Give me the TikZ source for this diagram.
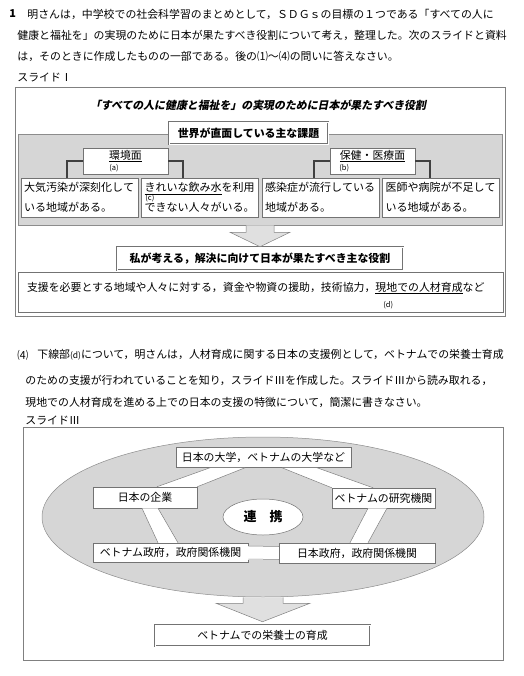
\documentclass[tikz,border=0pt]{standalone}
\usepackage{fontspec}
\usepackage{tikz}
\usetikzlibrary{shapes.geometric}
\setmainfont{Noto Sans CJK JP}
\newfontfamily\slantfont{Noto Sans CJK JP}[FakeSlant=0.2]
\XeTeXlinebreaklocale "ja"
\XeTeXlinebreakskip=0pt plus 2pt minus 0.6pt
\newcommand{\jline}[2]{\makebox[#1][s]{#2}}
\newcommand{\tagfont}{\fontsize{7.5}{7.5}\selectfont}

\begin{document}
\fontsize{10.9}{13}\selectfont
\begin{tikzpicture}[x=1pt, y=-1pt, thick,
    frame/.style={draw=black!50, line width=0.6pt},
    box/.style={draw=black!55, fill=white, inner sep=0pt, line width=0.5pt},
    headbox/.style={box, double=white, double distance=0.8pt, font=\bfseries},
    graybg/.style={draw=black!45, fill=black!16, inner sep=0pt, line width=0.5pt},
    issuebox/.style={box, minimum width=117pt, minimum height=39pt, text width=111pt,
      align=left, font=\fontsize{11}{20}\selectfont},
    bracket/.style={draw=black!75, line width=2.5pt},
    bigarrow/.style={draw=black!50, fill=black!12, line width=0.5pt},
    bandline/.style={draw=black!50, line width=0.5pt},
    line/.style={anchor=west, inner sep=0pt},
    subtag/.style={anchor=west, inner sep=0pt, font=\tagfont}]
    \useasboundingbox (0,0) rectangle (523,676);

    \node[line] (num) at (9,14) {\textbf{1}};
    \node[line] (l1) at (27,14) {\jline{476pt}{明さんは，中学校での社会科学習のまとめとして，ＳＤＧｓの目標の１つである「すべての人に}};
    \node[line] (l2) at (17,35) {\jline{486pt}{健康と福祉を」の実現のために日本が果たすべき役割について考え，整理した。次のスライドと資料}};
    \node[line] (l3) at (17,56) {\jline{362pt}{は，そのときに作成したものの一部である。後の⑴～⑷の問いに答えなさい。}};
    \node[line] (slide1) at (17,77) {スライドⅠ};

    \draw[frame] (15,87) rectangle (505,316);
    \node (title) at (258,105) {\slantfont\bfseries 「すべての人に健康と福祉を」の実現のために日本が果たすべき役割};
    \node[graybg, minimum width=484pt, minimum height=91pt] (issues) at (260,179.5) {};
    \node[headbox, minimum width=159pt, minimum height=22pt] (world) at (248.5,133) {世界が直面している主な課題};

    \node[box, minimum width=85pt, minimum height=26pt] (env) at (125.5,161) {};
    \node[inner sep=0pt] (envtext) at (125.5,156) {\underline{環境面}};
    \node[subtag] at (109,168.5) {(a)};
    \node[box, minimum width=85pt, minimum height=26pt] (health) at (372.5,161) {};
    \node[inner sep=0pt] (healthtext) at (372.5,156) {\underline{保健・医療面}};
    \node[subtag] at (339,168.5) {(b)};

    \node[issuebox] (air) at (79.5,197.5) {大気汚染が深刻化して\\いる地域がある。};
    \node[issuebox] (water) at (200,197.5) {\underline{きれいな飲み水}を利用\\できない人々がいる。};
    \node[subtag] at (145,198.5) {(c)};
    \node[issuebox] (infect) at (320.5,197.5) {感染症が流行している\\地域がある。};
    \node[issuebox] (doctor) at (441,197.5) {医師や病院が不足して\\いる地域がある。};

    \draw[bracket] (env.west) -| ([xshift=-12.5pt]air.north);
    \draw[bracket] (env.east) -| ([xshift=-17pt]water.north);
    \draw[bracket] (health.west) -| ([xshift=-6.5pt]infect.north);
    \draw[bracket] (health.east) -| ([xshift=-11pt]doctor.north);

    \node[box, minimum width=485pt, minimum height=40pt] (means) at (260.5,292) {};
    \node[inner sep=0pt] (meanstext) at (259.5,288) {\jline{465pt}{支援を必要とする地域や人々に対する，資金や物資の援助，技術協力，\underline{現地での人材育成}など}};
    \node[subtag] at (383,305) {(d)};
    \node[headbox, minimum width=286pt, minimum height=23pt] (role) at (260,258.5) {私が考える，解決に向けて日本が果たすべき主な役割};
    \filldraw[bigarrow] ([shift={(-14,0)}]issues.south) -- ([shift={(-14,7)}]issues.south)
        -- ([shift={(-30,7)}]issues.south) -- (role.north) -- ([shift={(30,7)}]issues.south)
        -- ([shift={(14,7)}]issues.south) -- ([shift={(14,0)}]issues.south);

    \node[line] (q4num) at (17,355) {⑷};
    \node[line] (q4a) at (37,355) {\jline{463pt}{下線部{\fontsize{8.5}{8.5}\selectfont(d)}について，明さんは，人材育成に関する日本の支援例として，ベトナムでの栄養士育成}};
    \node[line] (q4b) at (25,380) {\jline{470pt}{のための支援が行われていることを知り，スライドⅢを作成した。スライドⅢから読み取れる，}};
    \node[line] (q4c) at (25,402) {\jline{410pt}{現地での人材育成を進める上での日本の支援の特徴について，簡潔に書きなさい。}};
    \node[line] (slide3) at (25,420) {スライドⅢ};

    \draw[frame] (23,427) rectangle (503,660);
    \node[graybg, ellipse, minimum width=442pt, minimum height=160pt] (ring) at (263,517) {};
    \node[box, minimum width=175pt, minimum height=20pt] (univ) at (263.5,457.5) {日本の大学，ベトナムの大学など};
    \node[box, minimum width=104pt, minimum height=21pt] (firm) at (145,497.5) {日本の企業};
    \node[box, minimum width=103pt, minimum height=20pt] (lab) at (383.5,498) {ベトナムの研究機関};
    \node[box, minimum width=155pt, minimum height=19pt] (vgov) at (170.5,552.5) {ベトナム政府，政府関係機関};
    \node[box, minimum width=156pt, minimum height=20pt] (jgov) at (357,553) {日本政府，政府関係機関};
    \node[box, ellipse, minimum width=80pt, minimum height=36pt, font=\bfseries\fontsize{13}{13}\selectfont] (renkei) at (263,517) {連\quad 携};

    \fill[white] ([xshift=-53.5pt]univ.south) -- ([xshift=-18.5pt]univ.south) -- (firm.north east) -- ([xshift=12pt]firm.north) -- cycle;
    \draw[bandline] ([xshift=-53.5pt]univ.south) -- ([xshift=12pt]firm.north) ([xshift=-18.5pt]univ.south) -- (firm.north east);
    \fill[white] ([xshift=18.5pt]univ.south) -- ([xshift=53.5pt]univ.south) -- ([xshift=-10.5pt]lab.north) -- (lab.north west) -- cycle;
    \draw[bandline] ([xshift=18.5pt]univ.south) -- (lab.north west) ([xshift=53.5pt]univ.south) -- ([xshift=-10.5pt]lab.north);
    \fill[white] ([xshift=-3pt]firm.south) -- ([xshift=13pt]firm.south) -- ([xshift=7.5pt]vgov.north) -- ([xshift=-12.5pt]vgov.north) -- cycle;
    \draw[bandline] ([xshift=-3pt]firm.south) -- ([xshift=-12.5pt]vgov.north) ([xshift=13pt]firm.south) -- ([xshift=7.5pt]vgov.north);
    \fill[white] ([xshift=-15.5pt]lab.south) -- ([xshift=3.5pt]lab.south) -- ([xshift=11pt]jgov.north) -- ([xshift=-7pt]jgov.north) -- cycle;
    \draw[bandline] ([xshift=-15.5pt]lab.south) -- ([xshift=-7pt]jgov.north) ([xshift=3.5pt]lab.south) -- ([xshift=11pt]jgov.north);
    \fill[white] ([yshift=6.5pt]vgov.east) rectangle ([yshift=-6.5pt]jgov.west);
    \draw[bandline] ([yshift=6.5pt]vgov.east) -- ([yshift=6.5pt]jgov.west) ([yshift=-6.5pt]vgov.east) -- ([yshift=-6.5pt]jgov.west);

    \node[headbox, font=\mdseries, minimum width=215pt, minimum height=21pt] (goal) at (262.5,635.5) {ベトナムでの栄養士の育成};
    \filldraw[bigarrow] ([shift={(-20,0)}]ring.south) -- ([shift={(-20,6)}]ring.south)
        -- ([shift={(-47,6)}]ring.south) -- ([yshift=3pt]goal.north) -- ([shift={(47,6)}]ring.south)
        -- ([shift={(20,6)}]ring.south) -- ([shift={(20,0)}]ring.south);
\end{tikzpicture}
\end{document}
